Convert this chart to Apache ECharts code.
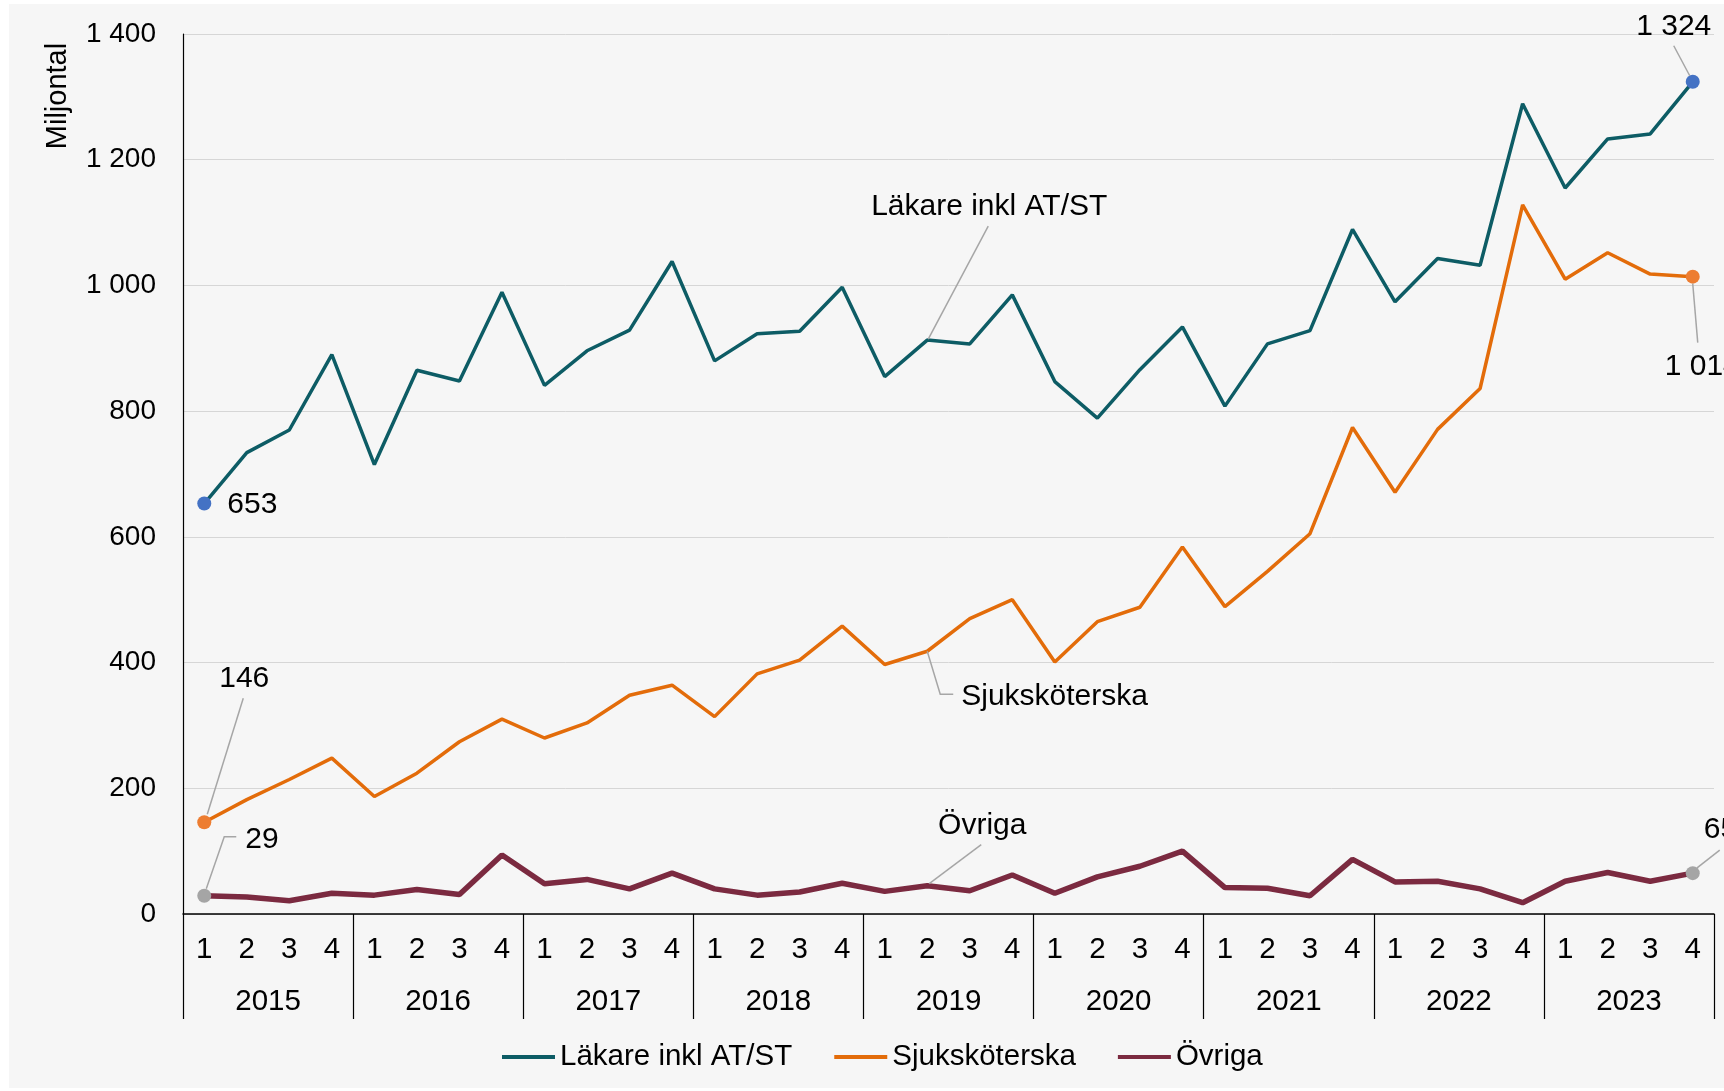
<!DOCTYPE html>
<html>
<head>
<meta charset="utf-8">
<script src="https://cdn.jsdelivr.net/npm/echarts@6/dist/echarts.min.js"></script>
<style>
  html, body { margin: 0; padding: 0; background: #fff; }
  #chart { width: 1724px; height: 1091px; }
</style>
</head>
<body>
<div id="chart"></div>
<script>
const years = ['2015', '2016', '2017', '2018', '2019', '2020', '2021', '2022', '2023'];
const quarterLabels = ['1', '2', '3', '4'];

// Miljontal per kvartal, 2015 Q1 .. 2023 Q4
const lakare = [653, 734, 770, 890, 715, 865, 848, 989, 841, 896, 929, 1038,
  880, 923, 927, 997, 855, 913, 907, 985, 847, 789, 866, 934,
  808, 907, 928, 1089, 974, 1043, 1032, 1289, 1155, 1233, 1241, 1324];
const sjukskoterska = [146, 182, 214, 248, 187, 224, 274, 310, 280, 304, 348, 364,
  314, 382, 404, 458, 397, 418, 470, 500, 401, 465, 488, 584,
  489, 545, 605, 774, 671, 771, 836, 1128, 1010, 1052, 1018, 1014];
const ovriga = [29, 27, 21, 33, 30, 39, 31, 94, 48, 55, 40, 65,
  40, 30, 35, 49, 36, 45, 37, 62, 33, 59, 76, 100,
  42, 41, 29, 87, 51, 52, 40, 18, 52, 66, 52, 65];

const seriesNames = ['Läkare inkl AT/ST', 'Sjuksköterska', 'Övriga'];
const yMin = 0, yMax = 1400, yStep = 200;

const FONT = '"Liberation Sans", Arial, sans-serif';
const lineColors = ['#0d5c65', '#e36c0a', '#7b2a40'];
const dotColors = ['#4472c4', '#ed7d31', '#a5a5a5'];

const categories = [];
years.forEach(y => quarterLabels.forEach(q => categories.push(q)));

function fmt(v) {
  return String(v).replace(/\B(?=(\d{3})+(?!\d))/g, ' ');
}

// markers only at first and last quarter
function withEnds(arr, color) {
  return arr.map((v, i) => (i === 0 || i === arr.length - 1)
    ? { value: v, symbol: 'circle', symbolSize: 14, itemStyle: { color: color } }
    : v);
}

const chart = echarts.init(document.getElementById('chart'));

chart.setOption({
  animation: false,
  backgroundColor: '#ffffff',
  textStyle: { fontFamily: FONT },
  grid: { left: 183, right: 10, top: 34, bottom: 177 },
  legend: {
    data: seriesNames,
    left: 497,
    top: 1037,
    icon: 'rect',
    itemWidth: 53,
    itemHeight: 4,
    itemGap: 42,
    textStyle: { fontSize: 29.5, color: '#000', fontFamily: FONT }
  },
  xAxis: [{
    type: 'category',
    position: 'bottom',
    data: categories,
    boundaryGap: true,
    axisLine: { show: true, lineStyle: { color: '#000', width: 1.5 } },
    axisTick: { show: false },
    axisLabel: { interval: 0, margin: 21, fontSize: 29.5, color: '#000', fontFamily: FONT }
  }, {
    type: 'category',
    position: 'bottom',
    data: years,
    boundaryGap: true,
    axisLine: { show: false },
    axisTick: { show: true, length: 105, lineStyle: { color: '#000', width: 1.2 } },
    axisLabel: { interval: 0, margin: 73, fontSize: 29.5, color: '#000', fontFamily: FONT }
  }],
  yAxis: {
    type: 'value',
    min: yMin,
    max: yMax,
    interval: yStep,
    axisLine: { show: true, lineStyle: { color: '#000', width: 1.2 } },
    axisTick: { show: false },
    splitLine: { lineStyle: { color: '#d6d6d6', width: 1 } },
    axisLabel: { margin: 27, fontSize: 28, color: '#000', fontFamily: FONT, formatter: fmt }
  },
  series: [
    {
      name: seriesNames[0], type: 'line', symbol: 'none', color: lineColors[0],
      lineStyle: { width: 3.5, color: lineColors[0] }, emphasis: { disabled: true },
      data: withEnds(lakare, dotColors[0]), z: 3
    },
    {
      name: seriesNames[1], type: 'line', symbol: 'none', color: lineColors[1],
      lineStyle: { width: 3.5, color: lineColors[1] }, emphasis: { disabled: true },
      data: withEnds(sjukskoterska, dotColors[1]), z: 3
    },
    {
      name: seriesNames[2], type: 'line', symbol: 'none', color: lineColors[2],
      lineStyle: { width: 5.5, color: lineColors[2] }, emphasis: { disabled: true },
      data: withEnds(ovriga, dotColors[2]), z: 3
    }
  ]
});

// annotations: offsets (px) from the data point for text and leader line
const seriesData = [lakare, sjukskoterska, ovriga];
const last = lakare.length - 1;
const notes = [
  { s: 0, i: 0, text: fmt(lakare[0]), tx: 23, ty: 1, align: 'left' },
  { s: 0, i: last, text: fmt(lakare[last]), tx: -19, ty: -55, align: 'center', line: [[-19, -36], [-3, -6]] },
  { s: 1, i: 0, text: fmt(sjukskoterska[0]), tx: 40, ty: -143, align: 'center', line: [[39, -124], [3, -8]] },
  { s: 1, i: last, text: fmt(sjukskoterska[last]), tx: -28, ty: 90, align: 'left', line: [[0, 7], [5, 66]] },
  { s: 2, i: 0, text: fmt(ovriga[0]), tx: 41, ty: -56, align: 'left', line: [[2, -7], [20, -59], [32, -59]] },
  { s: 2, i: last, text: fmt(ovriga[last]), tx: 11, ty: -43, align: 'left', line: [[27, -23], [4, -5]] },
  { s: 0, i: 17, text: seriesNames[0], tx: 62, ty: -133, align: 'center', line: [[61, -114], [1, -1]] },
  { s: 1, i: 17, text: seriesNames[1], tx: 34, ty: 45, align: 'left', line: [[0, 0], [13, 43], [26, 43]] },
  { s: 2, i: 17, text: seriesNames[2], tx: 55, ty: -60, align: 'center', line: [[54, -41], [2, -2]] }
];

const graphics = [
  { type: 'rect', z: -100, silent: true, shape: { x: 9, y: 4, width: 1715, height: 1084 }, style: { fill: '#f6f6f6' } },
  { type: 'text', z: 10, x: 58, y: 96, rotation: Math.PI / 2,
    style: { text: 'Miljontal', font: '29px ' + FONT, fill: '#000', align: 'center', verticalAlign: 'middle' } }
];

notes.forEach(n => {
  const p = chart.convertToPixel({ xAxisIndex: 0, yAxisIndex: 0 }, [n.i, seriesData[n.s][n.i]]);
  if (n.line) {
    graphics.push({
      type: 'polyline', z: 5, silent: true,
      shape: { points: n.line.map(d => [p[0] + d[0], p[1] + d[1]]) },
      style: { stroke: '#a6a6a6', lineWidth: 1.5, fill: null }
    });
  }
  graphics.push({
    type: 'text', z: 10, x: p[0] + n.tx, y: p[1] + n.ty,
    style: { text: n.text, font: '30px ' + FONT, fill: '#000', align: n.align, verticalAlign: 'middle' }
  });
});

chart.setOption({ graphic: graphics });

window.addEventListener('resize', () => {
  chart.resize();
});
</script>
</body>
</html>
